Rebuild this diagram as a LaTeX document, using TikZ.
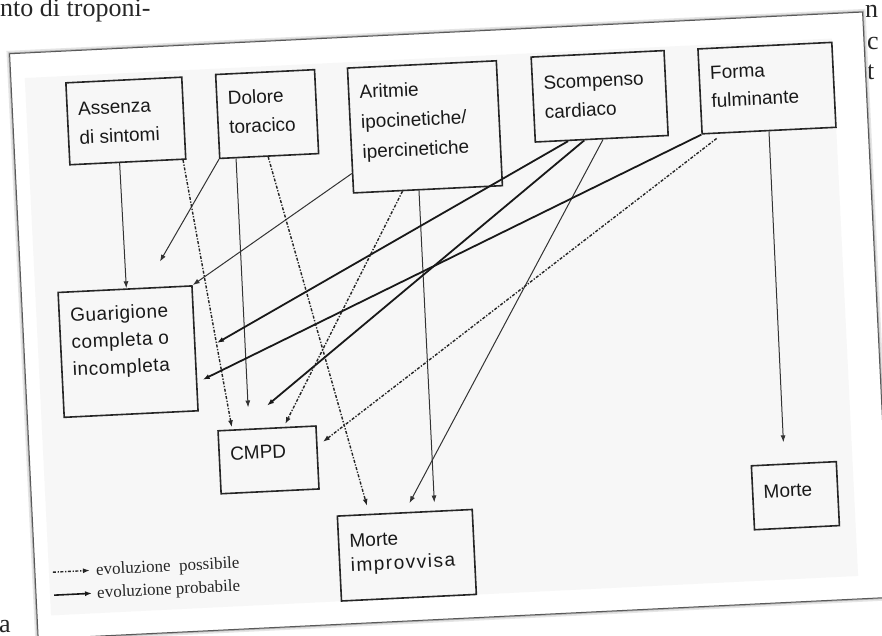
\documentclass[tikz,border=0pt]{standalone}
\usepackage{fontspec}
\setmainfont{Liberation Sans}
\newfontfamily\serifpage{Liberation Serif}
\usetikzlibrary{arrows.meta,calc}
\newcommand\boxtext[4]{\parbox[c][#2pt][t]{\dimexpr#1pt-22pt\relax}{\raggedright\rule{0pt}{#3pt}#4}}
\begin{document}
\begin{tikzpicture}[x=1pt,y=-1pt,
  bx/.style={draw=black!85,line width=1.6pt,anchor=north west,inner xsep=11pt,inner ysep=0pt,text=black!90,font=\fontsize{19}{29}\selectfont},
  pagetxt/.style={anchor=base west,inner sep=0pt,text=black!85,font=\serifpage\fontsize{26}{30}\selectfont},
  legtxt/.style={anchor=base west,inner sep=0pt,text=black!85,font=\serifpage\fontsize{17}{19}\selectfont},
  tip/.style={-{Latex[length=7pt,width=5pt]}},
  lnthin/.style={tip,line width=1pt,draw=black!80},
  lnthick/.style={tip,line width=1.8pt,draw=black!90},
  lndot/.style={tip,line width=1.4pt,draw=black!85,dash pattern=on 3pt off 1.6pt on 1.3pt off 1.6pt},
]
\useasboundingbox (0,0) rectangle (882,636);
\fill[white] (0,0) rectangle (882,636);
% page text around the card
\node[pagetxt] (pgA) at (0,17) {nto di troponi-};
\node[pagetxt] (pgB) at (-1,632) {a};
\node[pagetxt] (pgC) at (865,18) {n};
\node[pagetxt] (pgD) at (867,50) {c};
\node[pagetxt] (pgE) at (867,80) {t};

\begin{scope}[rotate around={2.8:(441,318)},transform shape]
  % card
  \draw[black!10,line width=6pt] (23,33) rectangle (877,619);
  \draw[black!30,line width=2.6pt] (23,33) rectangle (877,619);
  \draw[fill=white,draw=black!65,line width=1pt] (23,33) rectangle (877,619);
  \fill[black!3] (37,58) rectangle (845,596);

  % boxes
  \node[bx] (assenza) at (77,64) {\boxtext{116}{82}{33}{Assenza\\di sintomi}};
  \node[bx] (dolore) at (227,63) {\boxtext{99}{84}{31}{Dolore\\toracico}};
  \node[bx,font=\fontsize{19}{30}\selectfont] (aritmie) at (359,63) {\boxtext{149}{125}{31}{Aritmie\\ipocinetiche/\\ipercinetiche}};
  \node[bx] (scomp) at (543,61) {\boxtext{133}{85}{33}{Scompenso\\cardiaco}};
  \node[bx,font=\fontsize{19}{28}\selectfont] (forma) at (710,61) {\boxtext{134}{85}{31}{Forma\\fulminante}};
  \node[bx,font=\fontsize{19}{27}\selectfont] (guar) at (59,273) {\boxtext{134}{125}{30}{\addfontfeatures{LetterSpace=3}Guarigione\\completa o\\incompleta}};
  \node[bx] (cmpd) at (212,419) {\boxtext{98}{63}{30}{CMPD}};
  \node[bx,font=\fontsize{19}{24}\selectfont] (mi) at (327,510) {\boxtext{135}{85}{32}{Morte\\{\addfontfeatures{LetterSpace=8}improvvisa}}};
  \node[bx] (morte) at (743,480) {\boxtext{85}{64}{33}{Morte}};

  % free ends
  \coordinate (freeG) at (163,248);
  \coordinate (aboveC1) at (244,398);
  \coordinate (aboveC2) at (263,397);
  \coordinate (nearG1) at (216,332);
  \coordinate (nearG2) at (200,368);
  \coordinate (nearC) at (317,436);
  \coordinate (aboveM) at (777,459);

  % probable (solid)
  \draw[lnthin] ($(assenza.south west)!0.43!(assenza.south east)$) -- ($(guar.north west)!0.51!(guar.north east)$);
  \draw[lnthin] (dolore.south west) -- (freeG);
  \draw[lnthin] ($(dolore.south west)!0.17!(dolore.south east)$) -- (aboveC1);
  \draw[lnthin] ($(aritmie.north west)!0.84!(aritmie.south west)$) -- (guar.north east);
  \draw[lnthin,shorten >=8pt] ($(aritmie.south west)!0.44!(aritmie.south east)$) -- ($(mi.north west)!0.72!(mi.north east)$);
  \draw[lnthick] ($(scomp.south west)!0.25!(scomp.south east)$) -- (nearG1);
  \draw[lnthick] ($(scomp.south west)!0.37!(scomp.south east)$) -- (aboveC2);
  \draw[lnthin,shorten >=10pt] ($(scomp.south west)!0.51!(scomp.south east)$) -- (mi.north);
  \draw[lnthick] (forma.south west) -- (nearG2);
  \draw[lnthin] (forma.south) -- (aboveM);

  % possible (dash-dot)
  \draw[lndot,shorten >=2pt] ($(assenza.south west)!0.97!(assenza.south east)$) -- ($(cmpd.north west)!0.15!(cmpd.north east)$);
  \draw[lndot,shorten >=8pt] ($(dolore.south west)!0.49!(dolore.south east)$) -- ($(mi.north west)!0.24!(mi.north east)$);
  \draw[lndot,shorten >=3pt] ($(aritmie.south west)!0.33!(aritmie.south east)$) -- ($(cmpd.north west)!0.67!(cmpd.north east)$);
  \draw[lndot,shorten <=8pt] ($(forma.south west)!0.16!(forma.south east)$) -- (nearC);

  % legend
  \coordinate (l1a) at (41,553);
  \coordinate (l1b) at (78,553);
  \coordinate (l2a) at (41,576);
  \coordinate (l2b) at (79,576);
  \draw[lndot] (l1a) -- (l1b);
  \draw[tip,line width=1.6pt,draw=black!90] (l2a) -- (l2b);
  \node[legtxt] (leg1) at (84,558) {evoluzione\ \ possibile};
  \node[legtxt] (leg2) at (84,581) {evoluzione probabile};
\end{scope}
\end{tikzpicture}
\end{document}
